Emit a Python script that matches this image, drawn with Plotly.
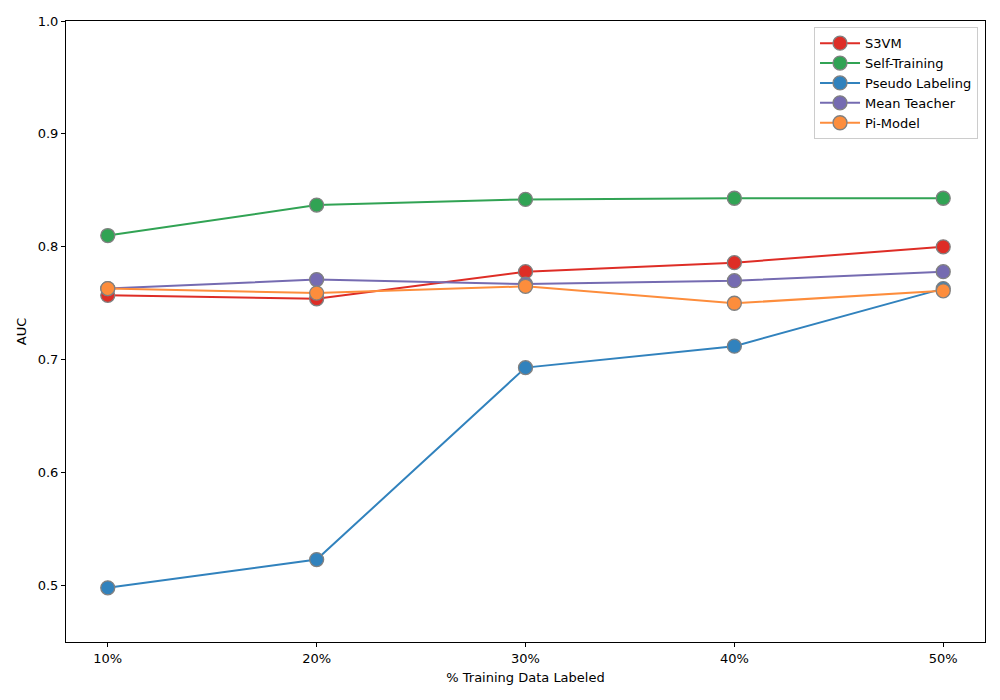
import plotly.graph_objects as go

categories = ["10%", "20%", "30%", "40%", "50%"]
s3vm = [0.757, 0.754, 0.778, 0.786, 0.800]
self_training = [0.810, 0.837, 0.842, 0.843, 0.843]
pseudo_labeling = [0.498, 0.523, 0.693, 0.712, 0.763]
mean_teacher = [0.763, 0.771, 0.767, 0.770, 0.778]
pi_model = [0.763, 0.759, 0.765, 0.750, 0.761]

series = [
    ("S3VM", s3vm, "#de2d26"),
    ("Self-Training", self_training, "#31a354"),
    ("Pseudo Labeling", pseudo_labeling, "#3182bd"),
    ("Mean Teacher", mean_teacher, "#756bb1"),
    ("Pi-Model", pi_model, "#fd8d3c"),
]

fig = go.Figure()
for name, vals, color in series:
    fig.add_trace(go.Scatter(
        x=categories, y=vals, name=name, mode="lines+markers",
        line=dict(color=color, width=2),
        marker=dict(color=color, size=14, line=dict(color="#808080", width=1.3)),
    ))

font = "DejaVu Sans, sans-serif"
fig.update_layout(
    width=992, height=692,
    margin=dict(l=58, r=15, t=13, b=58, autoexpand=False),
    plot_bgcolor="white", paper_bgcolor="white",
    font=dict(family=font, size=13, color="black"),
    legend=dict(
        x=0.9924, y=0.990, xanchor="right", yanchor="top",
        bordercolor="#cccccc", borderwidth=1, bgcolor="rgba(255,255,255,0.8)",
        font=dict(size=13), itemwidth=40, tracegroupgap=0,
    ),
    xaxis=dict(
        type="category", range=[-0.2, 4.2], automargin=False,
        showline=True, linecolor="black", linewidth=1, mirror=True,
        ticks="outside", ticklen=4, tickcolor="black", showgrid=False, zeroline=False,
        title=dict(text="% Training Data Labeled", font=dict(size=13), standoff=8),
    ),
    yaxis=dict(
        range=[0.45, 1.0], dtick=0.1, tick0=0.5, tickformat=".1f", automargin=False,
        showline=True, linecolor="black", linewidth=1, mirror=True,
        ticks="outside", ticklen=4, tickcolor="black", showgrid=False, zeroline=False,
        title=dict(text="AUC", font=dict(size=13), standoff=8),
    ),
)

fig.write_html("out.html")
